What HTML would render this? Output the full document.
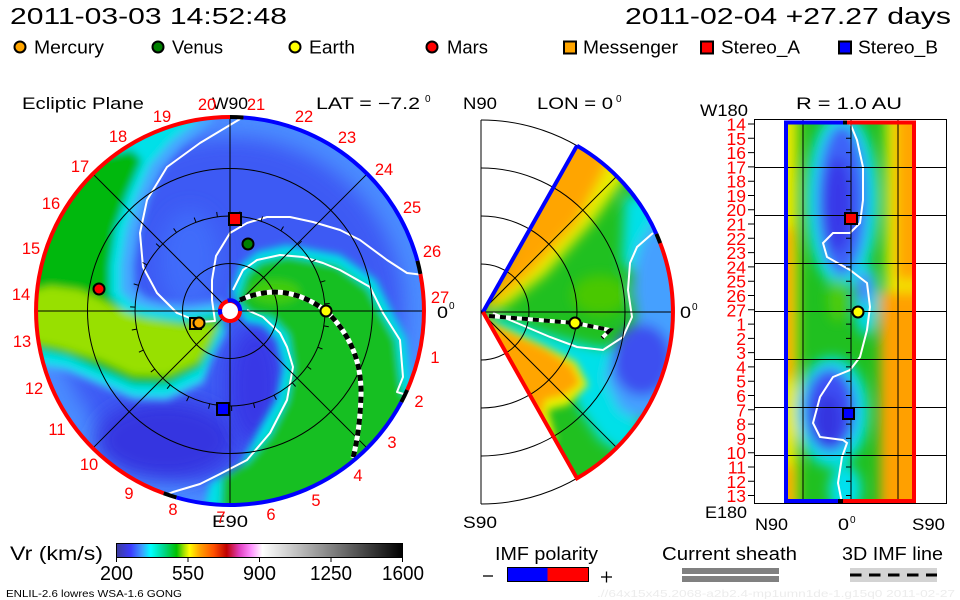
<!DOCTYPE html>
<html><head><meta charset="utf-8"><style>
html,body{margin:0;padding:0;background:#fff;}
svg{display:block;}
text{font-family:"Liberation Sans",sans-serif;}
</style></head><body>
<svg width="960" height="600" viewBox="0 0 960 600" xmlns="http://www.w3.org/2000/svg">
<defs>
<clipPath id="cd"><circle cx="230" cy="311" r="194"/></clipPath>
<clipPath id="cw"><path d="M481,312 L577,145.7 A192,192 0 0 1 577,478.3 Z"/></clipPath>
<clipPath id="cr"><rect x="786" y="121" width="128" height="382"/></clipPath>
<filter id="b4" x="-50%" y="-50%" width="200%" height="200%"><feGaussianBlur stdDeviation="4"/></filter>
<filter id="b6" x="-50%" y="-50%" width="200%" height="200%"><feGaussianBlur stdDeviation="6"/></filter>
<filter id="b10" x="-50%" y="-50%" width="200%" height="200%"><feGaussianBlur stdDeviation="10"/></filter>
<linearGradient id="cb" x1="0" x2="1" y1="0" y2="0">
<stop offset="0" stop-color="#3c3c9c"/>
<stop offset="0.05" stop-color="#3c3cff"/>
<stop offset="0.09" stop-color="#3ca0ff"/>
<stop offset="0.12" stop-color="#00ffff"/>
<stop offset="0.165" stop-color="#00d78c"/>
<stop offset="0.21" stop-color="#00c000"/>
<stop offset="0.235" stop-color="#a0e000"/>
<stop offset="0.255" stop-color="#ffff00"/>
<stop offset="0.29" stop-color="#ffa500"/>
<stop offset="0.34" stop-color="#ff5000"/>
<stop offset="0.385" stop-color="#c00000"/>
<stop offset="0.43" stop-color="#e040c0"/>
<stop offset="0.47" stop-color="#ff90ff"/>
<stop offset="0.51" stop-color="#ffffff"/>
<stop offset="1" stop-color="#000000"/>
</linearGradient>
</defs>

<!-- Header -->
<text x="10" y="24" font-size="23" textLength="277" lengthAdjust="spacingAndGlyphs">2011-03-03 14:52:48</text>
<text x="625" y="24" font-size="23" textLength="326" lengthAdjust="spacingAndGlyphs">2011-02-04 +27.27 days</text>

<!-- Legend -->
<g stroke="#000" stroke-width="2">
<circle cx="20" cy="47" r="5.5" fill="#ffa500"/>
<circle cx="158" cy="47" r="5.5" fill="#008000"/>
<circle cx="295" cy="47" r="5.5" fill="#ffff00"/>
<circle cx="432" cy="47" r="5.5" fill="#ff0000"/>
<rect x="564" y="41.5" width="12" height="12" fill="#ffa500"/>
<rect x="701" y="41.5" width="12" height="12" fill="#ff0000"/>
<rect x="839" y="41.5" width="12" height="12" fill="#0000ff"/>
</g>
<g font-size="18">
<text x="34" y="53.5" textLength="70" lengthAdjust="spacingAndGlyphs">Mercury</text>
<text x="172" y="53.5" textLength="51" lengthAdjust="spacingAndGlyphs">Venus</text>
<text x="309" y="53.5" textLength="46" lengthAdjust="spacingAndGlyphs">Earth</text>
<text x="447" y="53.5" textLength="41" lengthAdjust="spacingAndGlyphs">Mars</text>
<text x="583" y="53.5" textLength="95" lengthAdjust="spacingAndGlyphs">Messenger</text>
<text x="721" y="53.5" textLength="79" lengthAdjust="spacingAndGlyphs">Stereo_A</text>
<text x="858" y="53.5" textLength="80" lengthAdjust="spacingAndGlyphs">Stereo_B</text>
</g>

<!-- Panel titles -->
<g font-size="16.5">
<text x="22" y="109" textLength="122" lengthAdjust="spacingAndGlyphs">Ecliptic Plane</text>
<text x="212" y="109" textLength="36" lengthAdjust="spacingAndGlyphs">W90</text>
<text x="316" y="109" textLength="104" lengthAdjust="spacingAndGlyphs">LAT = −7.2</text>
<text x="463" y="109" textLength="34" lengthAdjust="spacingAndGlyphs">N90</text>
<text x="537" y="109" textLength="76" lengthAdjust="spacingAndGlyphs">LON = 0</text>
<text x="796" y="109" textLength="106" lengthAdjust="spacingAndGlyphs">R = 1.0 AU</text>
<text x="700" y="116" textLength="48" lengthAdjust="spacingAndGlyphs">W180</text>
<text x="212" y="527" textLength="36" lengthAdjust="spacingAndGlyphs">E90</text>
<text x="463" y="528" textLength="34" lengthAdjust="spacingAndGlyphs">S90</text>
<text x="705" y="518" textLength="42" lengthAdjust="spacingAndGlyphs">E180</text>
<text x="755" y="530" textLength="33" lengthAdjust="spacingAndGlyphs">N90</text>
<text x="838" y="530" textLength="11" lengthAdjust="spacingAndGlyphs">0</text>
<text x="912" y="530" textLength="33" lengthAdjust="spacingAndGlyphs">S90</text>
<text x="437" y="318" textLength="11" lengthAdjust="spacingAndGlyphs">0</text>
<text x="680" y="318" textLength="11" lengthAdjust="spacingAndGlyphs">0</text>
</g>
<g font-size="10">
<text x="425" y="102">0</text>
<text x="616" y="102">0</text>
<text x="850" y="523">0</text>
<text x="449" y="309">0</text>
<text x="692" y="310">0</text>
</g>

<!-- ===== LEFT DISC ===== -->
<g clip-path="url(#cd)">
<rect x="30" y="110" width="400" height="400" fill="#4a8cff"/>
<circle cx="230" cy="311" r="174" fill="#3d5af4" filter="url(#b10)"/>
<ellipse cx="165" cy="440" rx="70" ry="40" fill="#3636e0" filter="url(#b10)"/>
<ellipse cx="255" cy="385" rx="28" ry="60" fill="#3838e6" filter="url(#b10)"/>
<ellipse cx="190" cy="260" rx="30" ry="50" fill="#3f6cfa" filter="url(#b10)"/>
<g filter="url(#b4)">
<polygon fill="#44a8ff" points="226,334 212,360 203,384 167,401 133,400 100,386 67,372 30,366 0,366 0,100 215,95 212,122 182,146 162,170 148,200 139,233 134,265 135,288 147,298 162,302 190,304 222,300"/>
<polygon fill="#00e0e8" points="225,330 212,356 203,380 167,397 133,396 100,382 67,368 30,362 0,362 0,100 200,92 195,122 170,142 150,165 136,198 126,232 121,265 121,292 135,305 155,310 185,313 220,308"/>
<polygon fill="#00b810" points="222,320 212,345 200,368 167,385 133,384 100,370 67,356 30,348 0,348 0,165 70,162 100,156 132,150 142,160 127,195 115,230 110,265 110,295 125,312 150,318 183,322 217,316"/>
<polygon fill="#98e000" points="218,324 210,342 198,362 167,376 133,375 100,360 60,348 30,342 30,292 50,286 80,290 105,302 140,318 185,325"/>
</g>
<g filter="url(#b4)">
<polygon fill="#00e0e8" points="232,292 240,266 257,252 287,245 340,255 376,280 391,310 406,338 410,375 414,392 440,400 440,530 200,530 210,483 240,466 261,426 277,398 283,367 277,340 263,325 245,322"/>
<polygon fill="#12bf22" points="238,300 246,275 260,262 287,256 337,265 368,288 381,313 396,340 400,375 403,395 440,400 440,530 220,530 222,478 247,462 270,435 287,401 293,367 288,335 272,318 250,314"/>
<ellipse cx="275" cy="292" rx="25" ry="12" fill="#40cc10"/>
</g>
<!-- white current sheet lines -->
<g fill="none" stroke="#fff" stroke-width="2" stroke-linejoin="round">
<polyline points="240,119 200,143 167,167 147,200 140,233 143,267 157,293 177,313 200,322 215,321 212,300 212,280 216,256 230,233 247,223 267,217 290,217 313,222 340,230 360,240 387,260 407,273 424,275"/>
<polyline points="233,290 243,270 257,260 280,255 303,257 323,263 340,270 370,287 383,313 400,340 403,377 397,392 410,396"/>
<polyline points="247,310 263,317 280,333 287,347 293,367 287,400 270,433 247,460 220,474 200,484 173,492 158,498"/>
</g>
<!-- grid -->
<g fill="none" stroke="#000" stroke-width="1">
<circle cx="230" cy="311" r="47.5"/>
<circle cx="230" cy="311" r="95"/>
<circle cx="230" cy="311" r="142.5"/>
<line x1="36" y1="311" x2="424" y2="311"/>
<line x1="230" y1="117" x2="230" y2="505"/>
<line x1="92.8" y1="173.8" x2="367.2" y2="448.2"/>
<line x1="92.8" y1="448.2" x2="367.2" y2="173.8"/>
<path d="M324.7,303.9L329.7,303.5M320.5,282.2L325.3,280.7M311.5,262.1L315.7,259.5M298,244.7L301.6,241.2M280.9,230.8L283.5,226.5M261,221.2L262.6,216.5M239.4,216.5L239.9,211.5M217.4,216.8L216.7,211.9M196,222.3L194.2,217.6M176.5,232.5L173.6,228.4M159.8,247L156.1,243.6M146.9,264.9L142.6,262.5M138.5,285.3L133.7,283.9M135.1,307.1L130.1,306.9M136.7,329.1L131.8,330M143.4,350.1L138.9,352.2M154.8,369L150.8,372.1M170.2,384.8L167.1,388.7M188.8,396.6L186.6,401.1M209.7,403.8L208.6,408.7M231.6,406L231.7,411M253.5,403.1L254.7,407.9M274.1,395.2L276.4,399.6M292.3,382.7L295.6,386.5M307.1,366.4L311.2,369.4M317.9,347.2L322.5,349.1M323.8,325.9L328.8,326.7"/>
</g>
<!-- IMF line -->
<path d="M240,300 Q285,280 326,311 Q362,345 361,395 Q360,430 353,458" fill="none" stroke="#fff" stroke-width="5"/>
<path d="M240,300 Q285,280 326,311 Q362,345 361,395 Q360,430 353,458" fill="none" stroke="#000" stroke-width="5" stroke-dasharray="6 5"/>
</g>
<!-- rim -->
<g fill="none" stroke-width="4">
<path d="M230,117 A194,194 0 0 0 163.7,493.3" stroke="#ff0000"/>
<path d="M163.7,493.3 A194,194 0 0 0 176.5,497.5" stroke="#000"/>
<path d="M176.5,497.5 A194,194 0 0 0 401.3,402.1" stroke="#0000ff"/>
<path d="M401.3,402.1 A194,194 0 0 0 407.2,389.9" stroke="#000"/>
<path d="M407.2,389.9 A194,194 0 0 0 420.4,274" stroke="#ff0000"/>
<path d="M420.4,274 A194,194 0 0 0 417.4,260.8" stroke="#000"/>
<path d="M417.4,260.8 A194,194 0 0 0 243.5,117.5" stroke="#0000ff"/>
<path d="M243.5,117.5 A194,194 0 0 0 230,117" stroke="#000"/>
</g>
<!-- sun -->
<circle cx="230" cy="311" r="10" fill="#fff" stroke="#ff0000" stroke-width="4"/>
<path d="M227.7,300.6 A10,10 0 0 1 240,311" fill="none" stroke="#0000ff" stroke-width="4"/>
<path d="M220.2,309 A10,10 0 0 0 220.6,314.5" fill="none" stroke="#0000ff" stroke-width="4"/>
<!-- markers -->
<g stroke="#000" stroke-width="2">
<rect x="229" y="213" width="12" height="12" fill="#ff0000"/>
<circle cx="248" cy="244" r="5.5" fill="#008000"/>
<circle cx="99" cy="289" r="5.5" fill="#ff0000"/>
<rect x="190" y="318" width="11" height="11" fill="#ffa500"/>
<circle cx="199" cy="323" r="5.5" fill="#ffa500"/>
<rect x="217" y="403" width="12" height="12" fill="#0000ff"/>
<circle cx="326" cy="311" r="5.5" fill="#ffff00"/>
</g>
<!-- red day labels -->
<g font-size="16.5" fill="#ff0000" text-anchor="middle">
<text x="162" y="122">19</text><text x="118" y="142">18</text><text x="80" y="172">17</text>
<text x="51" y="209">16</text><text x="31" y="254">15</text><text x="21" y="300">14</text>
<text x="22" y="347">13</text><text x="34" y="394">12</text><text x="57" y="435">11</text>
<text x="89" y="470">10</text><text x="129" y="499">9</text><text x="173" y="515">8</text>
<text x="221" y="523">7</text><text x="207" y="110">20</text><text x="256" y="110">21</text>
<text x="304" y="122">22</text><text x="347" y="143">23</text><text x="384" y="175">24</text>
<text x="412" y="213">25</text><text x="432" y="257">26</text><text x="440" y="303">27</text>
<text x="435" y="363">1</text><text x="419" y="407">2</text><text x="392" y="448">3</text>
<text x="358" y="481">4</text><text x="316" y="506">5</text><text x="271" y="520">6</text>
</g>

<!-- ===== MIDDLE WEDGE ===== -->
<g clip-path="url(#cw)">
<rect x="470" y="130" width="210" height="360" fill="#20c020"/>
<g filter="url(#b6)">
<polygon fill="#e8f000" points="481,312 570,130 640,150 625,178 592,223 545,275 505,306"/>
<polygon fill="#ffa500" points="481,312 570,122 610,148 606,168 577,223 530,273 495,302"/>
<ellipse cx="600" cy="295" rx="28" ry="20" fill="#48c800"/>
<polygon fill="#00e0e8" points="625,196 655,196 665,230 645,252 632,272 622,262"/>
<polygon fill="#00e0e8" points="490,316 520,324 560,338 600,348 620,345 632,362 626,400 642,430 626,456 600,440 580,410 565,378 540,358 510,342 490,330"/>
<polygon fill="#44a0ff" points="655,220 640,245 634,266 632,290 636,318 627,340 612,352 606,380 620,410 645,422 690,405 690,220"/>
<ellipse cx="642" cy="360" rx="30" ry="36" fill="#3c50f0"/>
</g>
<g filter="url(#b4)">
<polygon fill="#e8f000" points="483,318 510,330 545,346 576,362 588,385 568,405 548,410 556,440 545,447 520,412 495,362 483,330"/>
<polygon fill="#ffa500" points="484,320 510,333 545,349 572,366 580,383 565,395 545,400 540,424 525,410 505,372 486,340"/>
</g>
<polyline points="653,233 637,247 630,263 628,290 632,317 623,337 603,350 577,347 550,337 517,323 493,313" fill="none" stroke="#fff" stroke-width="2"/>
</g>
<g fill="none" stroke="#000" stroke-width="1">
<path d="M481,264 A48,48 0 0 1 481,360"/>
<path d="M481,216 A96,96 0 0 1 481,408"/>
<path d="M481,168 A144,144 0 0 1 481,456"/>
<path d="M481,120 A192,192 0 0 1 481,504"/>
<line x1="481" y1="120" x2="481" y2="504"/>
<line x1="481" y1="312" x2="673" y2="312"/>
<line x1="481" y1="312" x2="616.8" y2="176.2"/>
<line x1="481" y1="312" x2="616.8" y2="447.8"/>
</g>
<g fill="none" stroke-width="4">
<path d="M483,312 L577,145.7" stroke="#0000ff"/>
<path d="M577,145.7 A192,192 0 0 1 656.4,233.9" stroke="#0000ff"/>
<path d="M656.4,233.9 A192,192 0 0 1 660.2,243.2" stroke="#000"/>
<path d="M660.2,243.2 A192,192 0 0 1 577,478.3 L483,312" stroke="#ff0000"/>
</g>
<path d="M489,316 L575,323 L610,330 L602,338" fill="none" stroke="#fff" stroke-width="4"/>
<path d="M489,316 L575,323 L610,330 L602,338" fill="none" stroke="#000" stroke-width="4" stroke-dasharray="6 5"/>
<circle cx="575" cy="323" r="5.5" fill="#ffff00" stroke="#000" stroke-width="2"/>

<!-- ===== RIGHT PANEL ===== -->
<g clip-path="url(#cr)">
<rect x="786" y="121" width="128" height="382" fill="#20c020"/>
<g filter="url(#b6)">
<rect x="776" y="110" width="22" height="400" fill="#e8e800"/>
<rect x="776" y="228" width="17" height="150" fill="#ffa500"/>
<rect x="776" y="465" width="18" height="48" fill="#ffa500"/>
<rect x="886" y="110" width="40" height="400" fill="#f0e800"/>
<rect x="896" y="110" width="32" height="170" fill="#ffa500"/>
<rect x="880" y="292" width="50" height="220" fill="#ffa000"/>
<ellipse cx="842" cy="200" rx="36" ry="88" fill="#00e0f0"/>
<ellipse cx="832" cy="412" rx="36" ry="55" fill="#00e0f0"/>
<ellipse cx="866" cy="300" rx="12" ry="36" fill="#00d8f0"/>
<ellipse cx="845" cy="490" rx="16" ry="25" fill="#00e0f0"/>
<ellipse cx="842" cy="200" rx="25" ry="76" fill="#3c64f8"/>
<ellipse cx="838" cy="205" rx="14" ry="48" fill="#3838e8"/>
<ellipse cx="830" cy="410" rx="26" ry="42" fill="#3c50f4"/>
<ellipse cx="828" cy="420" rx="14" ry="26" fill="#3434e0"/>
<ellipse cx="864" cy="288" rx="8" ry="16" fill="#4a80ff"/>
<ellipse cx="838" cy="300" rx="10" ry="22" fill="#50cc10"/>
</g>
<polyline points="850,123 857,140 863,167 863,200 860,223 850,233 833,233 823,243 827,257 850,270 867,283 870,307 867,330 860,357 850,370 833,377 820,397 813,423 820,437 843,440 847,443 842,457 838,483 842,503" fill="none" stroke="#fff" stroke-width="2"/>
</g>
<rect x="754.5" y="119.5" width="192" height="384" fill="none" stroke="#000" stroke-width="1"/>
<g stroke="#000" stroke-width="1">
<line x1="803" y1="119" x2="803" y2="503"/><line x1="851" y1="119" x2="851" y2="503"/><line x1="898" y1="119" x2="898" y2="503"/>
<line x1="754" y1="167.5" x2="946" y2="167.5"/><line x1="754" y1="215.5" x2="946" y2="215.5"/>
<line x1="754" y1="263.5" x2="946" y2="263.5"/><line x1="754" y1="311.5" x2="946" y2="311.5"/>
<line x1="754" y1="359.5" x2="946" y2="359.5"/><line x1="754" y1="407.5" x2="946" y2="407.5"/>
<line x1="754" y1="455.5" x2="946" y2="455.5"/>
<path d="M748,124H754M748,138.3H754M748,152.6H754M748,166.9H754M748,181.2H754M748,195.5H754M748,209.7H754M748,224H754M748,238.3H754M748,252.6H754M748,266.9H754M748,281.2H754M748,295.5H754M748,309.8H754M748,324.1H754M748,338.4H754M748,352.6H754M748,366.9H754M748,381.2H754M748,395.5H754M748,409.8H754M748,424.1H754M748,438.4H754M748,452.7H754M748,467H754M748,481.3H754M748,495.5H754"/>
<path d="M846,138.3H851M846,152.6H851M846,166.9H851M846,181.2H851M846,195.5H851M846,209.7H851M846,224H851M846,238.3H851M846,252.6H851M846,266.9H851M846,281.2H851M846,295.5H851M846,309.8H851M846,324.1H851M846,338.4H851M846,352.6H851M846,366.9H851M846,381.2H851M846,395.5H851M846,409.8H851M846,424.1H851M846,438.4H851M846,452.7H851M846,467H851M846,481.3H851M846,495.5H851"/>
</g>
<g fill="none" stroke-width="4">
<line x1="786" y1="121" x2="786" y2="503" stroke="#0000ff"/>
<line x1="914" y1="121" x2="914" y2="503" stroke="#ff0000"/>
<line x1="784" y1="122.5" x2="843" y2="122.5" stroke="#0000ff"/>
<line x1="843" y1="122.5" x2="847" y2="122.5" stroke="#000"/>
<line x1="847" y1="122.5" x2="916" y2="122.5" stroke="#ff0000"/>
<line x1="784" y1="501" x2="838" y2="501" stroke="#0000ff"/>
<line x1="838" y1="501" x2="843" y2="501" stroke="#000"/>
<line x1="843" y1="501" x2="916" y2="501" stroke="#ff0000"/>
</g>
<g stroke="#000" stroke-width="2">
<rect x="845" y="213" width="12" height="11" fill="#ff0000"/>
<circle cx="858" cy="312" r="5.5" fill="#ffff00"/>
<rect x="843" y="408" width="11" height="11" fill="#0000ff"/>
</g>
<g font-size="17.5" fill="#ff0000" text-anchor="end">
<text x="746" y="130.5">14</text><text x="746" y="144.8">15</text><text x="746" y="159.1">16</text>
<text x="746" y="173.4">17</text><text x="746" y="187.7">18</text><text x="746" y="201.9">19</text>
<text x="746" y="216.2">20</text><text x="746" y="230.5">21</text><text x="746" y="244.8">22</text>
<text x="746" y="259.1">23</text><text x="746" y="273.4">24</text><text x="746" y="287.7">25</text>
<text x="746" y="302">26</text><text x="746" y="316.3">27</text><text x="746" y="330.6">1</text>
<text x="746" y="344.9">2</text><text x="746" y="359.1">3</text><text x="746" y="373.4">4</text>
<text x="746" y="387.7">5</text><text x="746" y="402">6</text><text x="746" y="416.3">7</text>
<text x="746" y="430.6">8</text><text x="746" y="444.9">9</text><text x="746" y="459.2">10</text>
<text x="746" y="473.5">11</text><text x="746" y="487.8">12</text><text x="746" y="502">13</text>
</g>

<!-- ===== BOTTOM ===== -->
<text x="10" y="560" font-size="19" textLength="93" lengthAdjust="spacingAndGlyphs">Vr (km/s)</text>
<rect x="116.5" y="543.5" width="286" height="14" fill="url(#cb)" stroke="#000" stroke-width="1"/>
<g stroke="#000" stroke-width="1">
<line x1="116.5" y1="557" x2="116.5" y2="562"/><line x1="188" y1="557" x2="188" y2="562"/>
<line x1="259.5" y1="557" x2="259.5" y2="562"/><line x1="331" y1="557" x2="331" y2="562"/>
<line x1="402.5" y1="557" x2="402.5" y2="562"/>
</g>
<g font-size="20" text-anchor="middle">
<text x="116.5" y="580" textLength="33" lengthAdjust="spacingAndGlyphs">200</text>
<text x="188" y="580" textLength="32" lengthAdjust="spacingAndGlyphs">550</text>
<text x="259.5" y="580" textLength="33" lengthAdjust="spacingAndGlyphs">900</text>
<text x="331" y="580" textLength="42" lengthAdjust="spacingAndGlyphs">1250</text>
<text x="403" y="580" textLength="42" lengthAdjust="spacingAndGlyphs">1600</text>
</g>
<text x="6" y="597" font-size="10.5" textLength="176" lengthAdjust="spacingAndGlyphs">ENLIL-2.6 lowres WSA-1.6 GONG</text>
<text x="597" y="597" font-size="10.5" fill="#ececec" textLength="358" lengthAdjust="spacingAndGlyphs">.//64x15x45.2068-a2b2.4-mp1umn1de-1.g15q0   2011-02-27</text>

<g font-size="18">
<text x="495" y="560" textLength="103" lengthAdjust="spacingAndGlyphs">IMF polarity</text>
<text x="662" y="560" textLength="135" lengthAdjust="spacingAndGlyphs">Current sheath</text>
<text x="842" y="560" textLength="101" lengthAdjust="spacingAndGlyphs">3D IMF line</text>
</g>
<rect x="507.5" y="567.5" width="40" height="14" fill="#0000ff"/>
<rect x="547.5" y="567.5" width="41" height="14" fill="#ff0000"/>
<rect x="507.5" y="567.5" width="81" height="14" fill="none" stroke="#000" stroke-width="1"/>
<g stroke="#000" stroke-width="1.3">
<line x1="483" y1="576" x2="493" y2="576"/>
<line x1="601" y1="577" x2="612" y2="577"/>
<line x1="606.5" y1="571.5" x2="606.5" y2="582.5"/>
</g>
<rect x="682" y="568" width="97" height="6" fill="#808080"/>
<rect x="682" y="576" width="97" height="6" fill="#808080"/>
<rect x="850" y="568" width="87" height="14" fill="#d3d3d3"/>
<line x1="850" y1="575" x2="937" y2="575" stroke="#000" stroke-width="3" stroke-dasharray="11.5 7.5"/>
</svg>
</body></html>
